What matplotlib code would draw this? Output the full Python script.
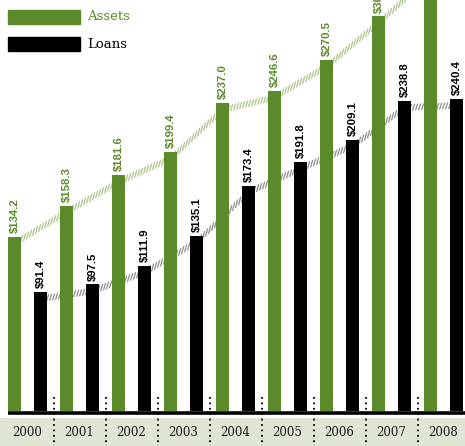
import numpy as np
import matplotlib
matplotlib.use("Agg")
from matplotlib import pyplot as plt
from matplotlib.patches import Rectangle
from matplotlib.collections import LineCollection

# data ($ billions)
years = ['2000', '2001', '2002', '2003', '2004', '2005', '2006', '2007', '2008']
assets = [134.2, 158.3, 181.6, 199.4, 237.0, 246.6, 270.5, 304.0, 340.0]
loans = [91.4, 97.5, 111.9, 135.1, 173.4, 191.8, 209.1, 238.8, 240.4]
asset_labels = ['$134.2', '$158.3', '$181.6', '$199.4', '$237.0', '$246.6', '$270.5', '$304.0', '$340.0']
loan_labels = ['$91.4', '$97.5', '$111.9', '$135.1', '$173.4', '$191.8', '$209.1', '$238.8', '$240.4']

green = '#5b8a2b'
band = '#dfe6d4'

fig = plt.figure(figsize=(4.65, 4.46), dpi=100)
ax = fig.add_axes([0, 0, 1, 1])
px = 1.298  # pixels per unit of value
pxx = 52.0  # pixels per year
ax.set_xlim(-27.5 / pxx, (465 - 27.5) / pxx)
ax.set_ylim(-35 / px, 411 / px)
ax.axis('off')

x = np.arange(len(years))
xa = x - 0.25
xl = x + 0.25


def hatched_trend(xs, vals, color):
    # trend band drawn as short steep stripes, like the hatched line of the original
    vals = np.array(vals) - 5.0
    h = 3.3 / px
    lean = 2.2 / pxx
    pos = np.arange(xs[0], xs[-1], 3.0 / pxx)
    lo = np.interp(pos, xs, vals) - h
    hi = np.interp(pos + lean, xs, vals) + h
    segs = [[(p, a), (p + lean, b)] for p, a, b in zip(pos, lo, hi)]
    ax.add_collection(LineCollection(segs, colors=color, linewidths=0.9, zorder=1))


hatched_trend(xa, assets, '#adc58c')
hatched_trend(xl, loans, '#8e8e8e')

ax.bar(xa, assets, width=0.25, color=green, zorder=2)
ax.bar(xl, loans, width=0.25, color='black', zorder=2)

for i in range(len(years)):
    ax.text(xa[i], assets[i] + 3, asset_labels[i], rotation=90, ha='center', va='bottom',
            color=green, fontsize=8.2, fontweight='bold', family='Liberation Sans', zorder=3)
    ax.text(xl[i], loans[i] + 3, loan_labels[i], rotation=90, ha='center', va='bottom',
            color='black', fontsize=8.2, fontweight='bold', family='Liberation Sans', zorder=3)

# baseline and year band
ax.plot([-0.375, 9], [-1.2, -1.2], color='black', lw=2.6, solid_capstyle='butt', zorder=3)
ax.axhspan(-35 / px, -5.4, color=band, zorder=0)
for i in range(len(years) - 1):
    ax.plot([i + 0.5, i + 0.5], [10.5, -35 / px], color='black', lw=1.3,
            linestyle=(0, (1, 2)), zorder=3)
for i, y in enumerate(years):
    ax.text(x[i], -16.2, y, ha='center', va='center', fontsize=8.5,
            family='DejaVu Serif', color='#1a1a1a', zorder=3)

# legend
ax.add_patch(Rectangle((8 / 465, 1 - 24 / 446), 72 / 465, 14 / 446, transform=ax.transAxes,
                       color=green, zorder=4))
ax.add_patch(Rectangle((8 / 465, 1 - 51 / 446), 72 / 465, 14 / 446, transform=ax.transAxes,
                       color='black', zorder=4))
ax.text(87 / 465, 1 - 17 / 446, 'Assets', transform=ax.transAxes, va='center',
        fontsize=9.5, family='DejaVu Serif', color=green)
ax.text(87 / 465, 1 - 44 / 446, 'Loans', transform=ax.transAxes, va='center',
        fontsize=9.5, family='DejaVu Serif', color='black')

fig.savefig('out.png', dpi=100)
